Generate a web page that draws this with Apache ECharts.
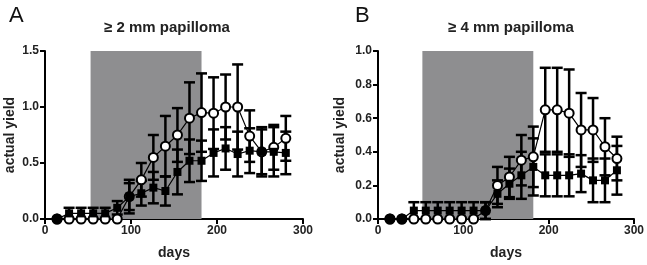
<!DOCTYPE html>
<html>
<head>
<meta charset="utf-8">
<script src="https://cdn.jsdelivr.net/npm/echarts@6/dist/echarts.min.js"></script>
<style>
  html, body { margin: 0; padding: 0; background: #fff; }
  #chart1 { width: 647px; height: 265px; }
</style>
</head>
<body>
<div id="chart1"></div>
<script>
// days of measurement (same for both panels)
const days = [14, 28, 42, 56, 70, 84, 98, 112, 126, 140, 154, 168, 182, 196, 210, 224, 238, 252, 266, 280];

// panel A: >= 2 mm papilloma
const aOpen = [0, 0, 0, 0, 0, 0, 0.2, 0.35, 0.55, 0.65, 0.75, 0.9, 0.95, 0.945, 1.0, 1.0, 0.74, 0.6, 0.64, 0.72];
const aOpenErr = [0, 0, 0, 0, 0, 0, 0.15, 0.15, 0.2, 0.27, 0.24, 0.32, 0.35, 0.32, 0.29, 0.38, 0.23, 0.2, 0.2, 0.2];
const aFilled = [0, 0.05, 0.05, 0.05, 0.05, 0.1, 0.2, 0.23, 0.28, 0.25, 0.42, 0.52, 0.52, 0.59, 0.63, 0.58, 0.61, 0.6, 0.6, 0.59];
const aFilledErr = [0, 0.05, 0.05, 0.05, 0.05, 0.06, 0.12, 0.11, 0.14, 0.13, 0.2, 0.19, 0.18, 0.21, 0.19, 0.2, 0.2, 0.22, 0.22, 0.19];

// panel B: >= 4 mm papilloma
const bOpen = [0, 0, 0, 0, 0, 0, 0, 0, 0.05, 0.2, 0.25, 0.35, 0.37, 0.65, 0.65, 0.63, 0.53, 0.53, 0.43, 0.36];
const bOpenErr = [0, 0, 0, 0, 0, 0, 0, 0, 0.05, 0.11, 0.12, 0.15, 0.18, 0.25, 0.25, 0.26, 0.22, 0.19, 0.17, 0.13];
const bFilled = [0, 0, 0.05, 0.05, 0.05, 0.05, 0.05, 0.05, 0.05, 0.15, 0.21, 0.26, 0.31, 0.26, 0.26, 0.26, 0.27, 0.23, 0.23, 0.29];
const bFilledErr = [0, 0, 0.05, 0.05, 0.05, 0.05, 0.05, 0.05, 0.05, 0.08, 0.09, 0.14, 0.17, 0.125, 0.125, 0.125, 0.11, 0.13, 0.13, 0.145];

// treatment period (grey box), in days
const shadeA = [53, 182];
const shadeB = [52, 182];

const titles = ['\u2265 2 mm papilloma', '\u2265 4 mm papilloma'];
const letters = ['A', 'B'];

const FONT = '"Liberation Sans", Arial, Helvetica, sans-serif';

const errBar = (params, api) => {
    const x = api.value(0);
    const lo = api.coord([x, api.value(1)]);
    const hi = api.coord([x, api.value(2)]);
    const hw = 5.5;
    const style = { stroke: '#000', lineWidth: 2.5 };
    return {
        type: 'group',
        children: [
            { type: 'line', shape: { x1: lo[0], y1: hi[1], x2: lo[0], y2: lo[1] }, style: style },
            { type: 'line', shape: { x1: lo[0] - hw, y1: hi[1], x2: lo[0] + hw, y2: hi[1] }, style: style },
            { type: 'line', shape: { x1: lo[0] - hw, y1: lo[1], x2: lo[0] + hw, y2: lo[1] }, style: style }
        ]
    };
};

const errData = (vals, errs) => {
    const out = [];
    vals.forEach((v, i) => {
        if (errs[i] > 0) out.push([days[i], Math.max(0, v - errs[i]), v + errs[i]]);
    });
    return out;
};

const panelSeries = (idx, open, openErr, filled, filledErr, shade, ymax) => {
    const filledData = filled.map((v, i) => {
        if (v === 0 && open[i] === 0) {
            return { value: [days[i], v], symbol: 'circle', symbolSize: 11 };
        }
        return [days[i], v];
    });
    return [
        {
            type: 'line', xAxisIndex: idx, yAxisIndex: idx, data: [], silent: true, z: 0,
            markArea: {
                silent: true,
                itemStyle: { color: '#8e8e90', opacity: 1 },
                data: [[{ xAxis: shade[0], yAxis: 0 }, { xAxis: shade[1], yAxis: ymax }]]
            }
        },
        {
            type: 'custom', xAxisIndex: idx, yAxisIndex: idx, renderItem: errBar,
            data: errData(open, openErr), z: 2, silent: true
        },
        {
            type: 'custom', xAxisIndex: idx, yAxisIndex: idx, renderItem: errBar,
            data: errData(filled, filledErr), z: 2, silent: true
        },
        {
            type: 'line', xAxisIndex: idx, yAxisIndex: idx, z: 3,
            data: open.map((v, i) => [days[i], v]),
            symbol: 'circle', symbolSize: 9, showAllSymbol: true,
            lineStyle: { color: '#000', width: 1.2 },
            itemStyle: { color: '#fff', borderColor: '#000', borderWidth: 2 }
        },
        {
            type: 'line', xAxisIndex: idx, yAxisIndex: idx, z: 4,
            data: filledData,
            symbol: 'rect', symbolSize: 8, showAllSymbol: true,
            lineStyle: { color: '#000', width: 1.2 },
            itemStyle: { color: '#000' }
        }
    ];
};

const xAxisCfg = (idx) => ({
    type: 'value', gridIndex: idx, min: 0, max: 300, interval: 100,
    name: 'days', nameLocation: 'middle', nameGap: 27,
    nameTextStyle: { fontFamily: FONT, fontWeight: 'bold', fontSize: 14, color: '#222' },
    axisLine: { lineStyle: { color: '#000', width: 2 } },
    axisTick: { length: 5, lineStyle: { color: '#000', width: 2 } },
    axisLabel: { fontFamily: FONT, fontWeight: 'bold', fontSize: 12, color: '#222', margin: 6 },
    splitLine: { show: false }
});

const yAxisCfg = (idx, max, step, gap) => ({
    type: 'value', gridIndex: idx, min: 0, max: max, interval: step,
    name: 'actual yield', nameLocation: 'middle', nameGap: gap,
    nameTextStyle: { fontFamily: FONT, fontWeight: 'bold', fontSize: 14, color: '#222' },
    axisLine: { show: true, lineStyle: { color: '#000', width: 2 } },
    axisTick: { show: true, length: 5, lineStyle: { color: '#000', width: 2 } },
    axisLabel: {
        fontFamily: FONT, fontWeight: 'bold', fontSize: 12, color: '#222', margin: 6,
        formatter: (v) => v.toFixed(1)
    },
    splitLine: { show: false }
});

const getOptionChart1 = () => {
    return {
        animation: false,
        backgroundColor: '#fff',
        title: [
            { text: titles[0], left: 162, top: 15, textAlign: 'center',
              textStyle: { fontFamily: FONT, fontWeight: 'bold', fontSize: 15, color: '#222' } },
            { text: titles[1], left: 506, top: 15, textAlign: 'center',
              textStyle: { fontFamily: FONT, fontWeight: 'bold', fontSize: 15, color: '#222' } },
            { text: letters[0], left: 4, top: 0,
              textStyle: { fontFamily: FONT, fontWeight: 'normal', fontSize: 22, color: '#111' } },
            { text: letters[1], left: 350, top: 0,
              textStyle: { fontFamily: FONT, fontWeight: 'normal', fontSize: 22, color: '#111' } }
        ],
        grid: [
            { left: 45, top: 51, width: 258, height: 171 },
            { left: 378, top: 51, width: 258, height: 171 }
        ],
        xAxis: [xAxisCfg(0), xAxisCfg(1)],
        yAxis: [yAxisCfg(0, 1.5, 0.5, 28), yAxisCfg(1, 1.0, 0.2, 31)],
        series: [
            ...panelSeries(0, aOpen, aOpenErr, aFilled, aFilledErr, shadeA, 1.5),
            ...panelSeries(1, bOpen, bOpenErr, bFilled, bFilledErr, shadeB, 1.0)
        ]
    };
};

let chart1;
const initCharts = () => {
    chart1 = echarts.init(document.getElementById('chart1'));
    chart1.setOption(getOptionChart1());
};
document.addEventListener('DOMContentLoaded', initCharts);
window.addEventListener('resize', () => chart1.resize());
</script>
</body>
</html>
